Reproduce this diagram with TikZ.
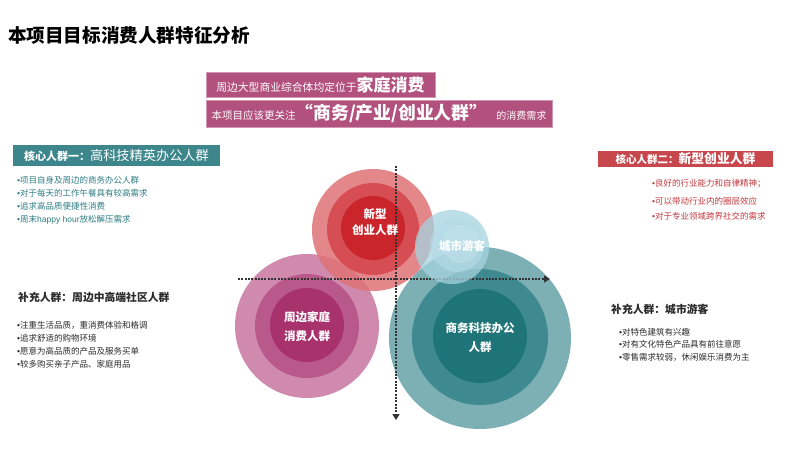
\documentclass[tikz,border=0pt]{standalone}
\usepackage{fontspec}
\setmainfont{Noto Sans CJK SC}
\newfontfamily\latinf{Liberation Sans}
\newcommand\bdot{{\latinf •}}
\usetikzlibrary{arrows.meta}
\definecolor{bannerc}{HTML}{B2507E}
\definecolor{tealhead}{HTML}{3D868C}
\definecolor{redhead}{HTML}{C8474D}
\definecolor{tealtext}{HTML}{2E7D83}
\definecolor{redtext}{HTML}{C0393F}
\definecolor{darktext}{HTML}{2B2B2B}
\definecolor{pinkA}{HTML}{D08AAD}
\definecolor{pinkB}{HTML}{B9588A}
\definecolor{pinkC}{HTML}{A8326C}
\definecolor{tealA}{HTML}{7DB0B4}
\definecolor{tealB}{HTML}{3E8A90}
\definecolor{tealC}{HTML}{1F747A}
\definecolor{redA}{HTML}{E07276}
\definecolor{redB}{HTML}{D4434A}
\definecolor{redC}{HTML}{C92127}
\definecolor{blueA}{HTML}{A6D3E0}
\definecolor{blueB}{HTML}{B5DCE7}
\definecolor{blueC}{HTML}{C2E2EC}
\definecolor{axisc}{HTML}{333333}
\tikzset{
  txt/.style={anchor=west,inner sep=0pt},
  bul/.style={txt,font=\fontsize{8.5}{10}\selectfont},
  supphead/.style={txt,font=\bfseries\fontsize{10.8}{12}\selectfont,text=darktext},
  banner/.style={fill=bannerc,text=white,inner sep=0pt,draw=bannerc!60!white,line width=0.6pt},
  headbox/.style={text=white,inner sep=0pt},
  circlabel/.style={text=white,align=center,font=\bfseries\fontsize{11.5}{19}\selectfont,inner sep=0pt},
  axisline/.style={draw=axisc,line width=2pt,dash pattern=on 2pt off 1.3pt,-{Triangle[length=6pt,width=7pt]}},
}
\begin{document}
\begin{tikzpicture}[x=1pt,y=-1pt]
\useasboundingbox (0,0) rectangle (800,452);
\fill[white] (0,0) rectangle (800,452);

% title
\node[txt,font=\bfseries\fontsize{18.6}{20}\selectfont,text=black] (title) at (8,35) {本项目目标消费人群特征分析};

% banners
\node[banner,minimum width=229pt,minimum height=25pt] (ban1) at (320.5,84.5)
  {{\fontsize{10.8}{12}\selectfont 周边大型商业综合体均定位于}{\bfseries\fontsize{17}{19}\selectfont 家庭消费}};
\node[banner,minimum width=346pt,minimum height=27pt] (ban2) at (379,113.5)
  {{\fontsize{10.5}{12}\selectfont 本项目应该更关注}{\bfseries\fontsize{17.8}{19}\selectfont “商务/产业/创业人群”}\hspace{9pt}{\fontsize{10}{12}\selectfont 的消费需求}};

% left core header
\node[headbox,fill=tealhead,minimum width=207pt,minimum height=21pt] (lhead) at (116.5,155.5)
  {{\bfseries\fontsize{11}{12}\selectfont 核心人群一：}{\fontsize{13.2}{14}\selectfont 高科技精英办公人群}};
\node[bul,text=tealtext] (lb1) at (17,180) {\bdot 项目自身及周边的商务办公人群};
\node[bul,text=tealtext] (lb2) at (17,193) {\bdot 对于每天的工作午餐具有较高需求};
\node[bul,text=tealtext] (lb3) at (17,206) {\bdot 追求高品质便捷性消费};
\node[bul,text=tealtext] (lb4) at (17,219.5) {\bdot 周末{\latinf happy hour}放松解压需求};

% right core header
\node[headbox,fill=redhead,minimum width=175pt,minimum height=16pt] (rhead) at (685.5,159)
  {{\bfseries\fontsize{10.5}{12}\selectfont 核心人群二：}{\bfseries\fontsize{12.8}{14}\selectfont 新型创业人群}};
\node[bul,text=redtext] (rb1) at (652,183.5) {\bdot 良好的行业能力和自律精神；};
\node[bul,text=redtext] (rb2) at (652,201) {\bdot 可以带动行业内的圈层效应};
\node[bul,text=redtext] (rb3) at (652,216) {\bdot 对于专业领域跨界社交的需求};

% left supplementary
\node[supphead] (lsup) at (18,297) {补充人群：周边中高端社区人群};
\node[bul,text=darktext] (ls1) at (17,325) {\bdot 注重生活品质，重消费体验和格调};
\node[bul,text=darktext] (ls2) at (17,338.5) {\bdot 追求舒适的购物环境};
\node[bul,text=darktext] (ls3) at (17,351.5) {\bdot 愿意为高品质的产品及服务买单};
\node[bul,text=darktext] (ls4) at (17,364) {\bdot 较多购买亲子产品、家庭用品};

% right supplementary
\node[supphead] (rsup) at (611,309) {补充人群：城市游客};
\node[bul,text=darktext] (rs1) at (619,332) {\bdot 对特色建筑有兴趣};
\node[bul,text=darktext] (rs2) at (619,344.5) {\bdot 对有文化特色产品具有前往意愿};
\node[bul,text=darktext] (rs3) at (619,357) {\bdot 零售需求较弱，休闲娱乐消费为主};

% circles: pink
\fill[pinkA] (307,326) circle (72);
\fill[pinkB] (307,326) circle (52);
\fill[pinkC] (307,325) circle (37);
% teal
\fill[tealA] (480,338) circle (91);
\fill[tealB] (480,337) circle (68);
\fill[tealC] (480,336) circle (47);
% red
\fill[redA,fill opacity=0.85] (373,230) circle (61);
\fill[redB,fill opacity=0.85] (373,229) circle (46);
\fill[redC,fill opacity=0.9] (373,228) circle (32);

% axes
\coordinate (hstart) at (238,279);
\coordinate (hend) at (550,279);
\coordinate (vstart) at (396,166);
\coordinate (vend) at (396,420);
\draw[axisline] (hstart) -- (hend);
\draw[axisline] (vstart) -- (vend);

% blue
\fill[blueA,fill opacity=0.75] (452,247) circle (37);
\fill[blueB,fill opacity=0.6] (457,245) circle (27);
\fill[blueC,fill opacity=0.5] (461,244) circle (19);

% circle labels
\node[circlabel,font=\bfseries\fontsize{11.5}{16}\selectfont] (lred) at (375,222) {新型\\创业人群};
\node[circlabel] (lblue) at (462,246) {城市游客};
\node[circlabel] (lpink) at (307,326.5) {周边家庭\\消费人群};
\node[circlabel] (lteal) at (480,337.5) {商务科技办公\\人群};
\end{tikzpicture}
\end{document}
